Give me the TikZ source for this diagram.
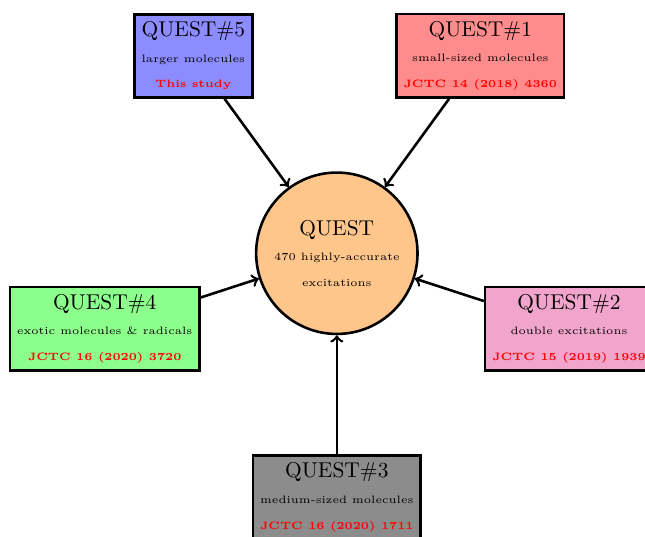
\documentclass[tikz,border=0pt]{standalone}
\usepackage{tikz}
\usetikzlibrary{shapes,arrows,positioning}
\definecolor{questpink}{RGB}{242, 165, 204}

\begin{document}
\begin{tikzpicture}[every node/.style={align=center, very thick, draw=black},
  questbox/.style={rectangle},
  questlink/.style={->, very thick}]
\useasboundingbox (-5.52,-4.64) rectangle (5.05,4.15);
% Central database
\node[circle, fill=orange!45] (quest) at (0,0) {QUEST\\{\tiny 470 highly-accurate}\\{\tiny excitations}};

% Sets around it
\node[questbox, fill=red!45] (q1) at (54:4cm) {QUEST\#1\\{\tiny small-sized molecules}\\{\tiny\bfseries\color{red} JCTC 14 (2018) 4360}};
\node[questbox, fill=questpink] (q2) at (-18:4cm) {QUEST\#2\\{\tiny double excitations}\\{\tiny\bfseries\color{red} JCTC 15 (2019) 1939}};
\node[questbox, fill=black!45] (q3) at (-90:4cm) {QUEST\#3\\{\tiny medium-sized molecules}\\{\tiny\bfseries\color{red} JCTC 16 (2020) 1711}};
\node[questbox, fill=green!45] (q4) at (198:4cm) {QUEST\#4\\{\tiny exotic molecules \& radicals}\\{\tiny\bfseries\color{red} JCTC 16 (2020) 3720}};
\node[questbox, fill=blue!45] (q5) at (126:4cm) {QUEST\#5\\{\tiny larger molecules}\\{\tiny\bfseries\color{red} This study}};

% Arrows
\draw[questlink] (q1) -- (quest);
\draw[questlink] (q2) -- (quest);
\draw[questlink] (q3) -- (quest);
\draw[questlink] (q4) -- (quest);
\draw[questlink] (q5) -- (quest);
\end{tikzpicture}
\end{document}
